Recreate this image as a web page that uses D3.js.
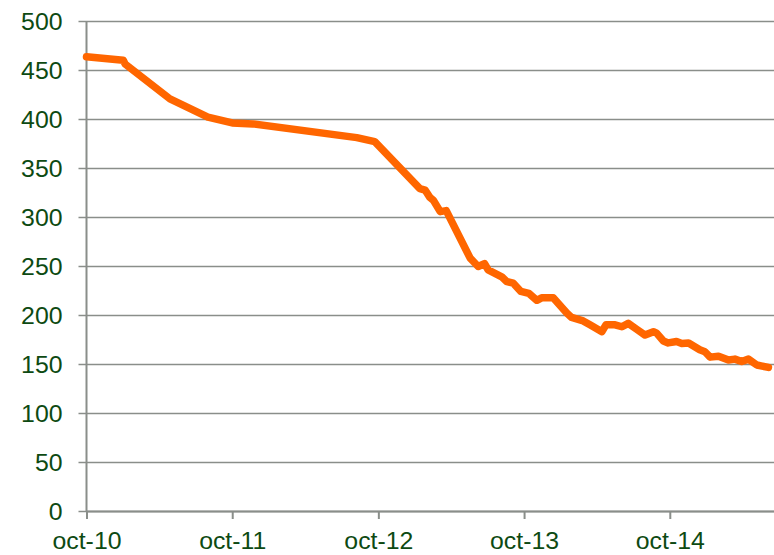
<!DOCTYPE html>
<html>
<head>
<meta charset="utf-8">
<script src="https://cdn.jsdelivr.net/npm/d3@7"></script>
<style>
  html, body { margin: 0; padding: 0; background: #fff; }
  svg { display: block; }
  .lbl { font-family: "Liberation Sans", Arial, sans-serif; fill: #0d4a12; }
</style>
</head>
<body>
<div id="chart"></div>
<script>
// data
var dates = ["2010-10-01", "2011-01-01", "2011-01-06", "2011-04-28", "2011-08-01",
  "2011-10-01", "2011-11-22", "2012-08-08", "2012-09-22", "2013-01-13",
  "2013-01-26", "2013-02-07", "2013-02-16", "2013-03-05", "2013-03-20",
  "2013-05-19", "2013-06-08", "2013-06-24", "2013-07-03", "2013-08-06",
  "2013-08-19", "2013-09-04", "2013-09-23", "2013-10-13", "2013-11-02",
  "2013-11-14", "2013-12-13", "2014-01-16", "2014-01-28", "2014-02-26",
  "2014-03-15", "2014-04-14", "2014-04-24", "2014-05-17", "2014-06-03",
  "2014-06-19", "2014-07-10", "2014-07-31", "2014-08-21", "2014-08-29",
  "2014-09-15", "2014-09-27", "2014-10-18", "2014-10-31", "2014-11-17",
  "2014-12-15", "2014-12-28", "2015-01-10", "2015-01-31", "2015-02-25",
  "2015-03-13", "2015-03-30", "2015-04-16", "2015-05-07", "2015-06-05"];
var values = [463.5, 460, 456, 420.5, 402,
  396, 395, 381, 377, 329,
  327.5, 320, 317, 305.5, 306.5,
  258, 249.5, 252.5, 246, 239,
  234, 232.5, 224, 222, 215,
  217.5, 217.5, 202, 197.5, 194,
  190, 183, 190, 190, 188,
  191.5, 185.5, 179.5, 183, 181.5,
  173.5, 171.5, 173, 171, 171.5,
  164.5, 162.5, 157, 158, 154,
  155, 152.5, 155, 149, 146.5];
var yTicks = [0, 50, 100, 150, 200, 250, 300, 350, 400, 450, 500];
var xTickDates = ["2010-10-01", "2011-10-01", "2012-10-01", "2013-10-01", "2014-10-01"];
var xTickLabels = ["oct-10", "oct-11", "oct-12", "oct-13", "oct-14"];
var xStart = "2010-10-01", xEnd = "2015-06-19";

var width = 774, height = 555;
var mLeft = 86.5, mRight = 774, mTop = 21, mBottom = 511;
var gridCol = "#8a8e8a";
var sx = 1.08; // labels in the picture are a bit wide
var parse = d3.timeParse("%Y-%m-%d");

var svg = d3.select("#chart").append("svg")
  .attr("width", width)
  .attr("height", height);

var x = d3.scaleTime()
  .domain([parse(xStart), parse(xEnd)])
  .range([mLeft, mRight]);
var y = d3.scaleLinear()
  .domain([0, 500])
  .range([mBottom, mTop]);

// horizontal gridlines + y labels
var yAxis = d3.axisLeft(y)
  .tickValues(yTicks)
  .tickSize(-(mRight - mLeft + 8))
  .tickFormat(d3.format("d"));
var gy = svg.append("g")
  .attr("transform", "translate(" + (mLeft - 8) + ",0)")
  .call(yAxis);
gy.select(".domain").remove();
gy.selectAll(".tick line")
  .attr("stroke", gridCol)
  .attr("stroke-width", 1.5);
gy.selectAll(".tick text")
  .attr("class", "lbl")
  .attr("x", -16 / sx)
  .attr("dy", "0.35em")
  .style("font-size", "23px")
  .attr("transform", "scale(" + sx + ",1)");

// vertical axis line
svg.append("line")
  .attr("x1", mLeft).attr("x2", mLeft)
  .attr("y1", mTop).attr("y2", mBottom)
  .attr("stroke", gridCol)
  .attr("stroke-width", 2);

// x axis
var xAxis = d3.axisBottom(x)
  .tickValues(xTickDates.map(parse))
  .tickSize(8)
  .tickSizeOuter(0)
  .tickFormat(function (d, i) { return xTickLabels[i]; });
var gx = svg.append("g")
  .attr("transform", "translate(0," + mBottom + ")")
  .call(xAxis);
gx.select(".domain")
  .attr("stroke", gridCol)
  .attr("stroke-width", 2);
gx.selectAll(".tick line")
  .attr("stroke", gridCol)
  .attr("stroke-width", 2);
gx.selectAll(".tick text")
  .attr("class", "lbl")
  .attr("y", 22)
  .attr("dy", "0.71em")
  .style("font-size", "23px")
  .attr("transform", "scale(" + sx + ",1)");

// line
var pts = dates.map(function (d, i) { return { date: parse(d), value: values[i] }; });
var line = d3.line()
  .x(function (d) { return x(d.date); })
  .y(function (d) { return y(d.value); });

svg.append("path")
  .datum(pts)
  .attr("d", line)
  .attr("fill", "none")
  .attr("stroke", "#ff6600")
  .attr("stroke-width", 7.5)
  .attr("stroke-linejoin", "round")
  .attr("stroke-linecap", "round");
</script>
</body>
</html>
